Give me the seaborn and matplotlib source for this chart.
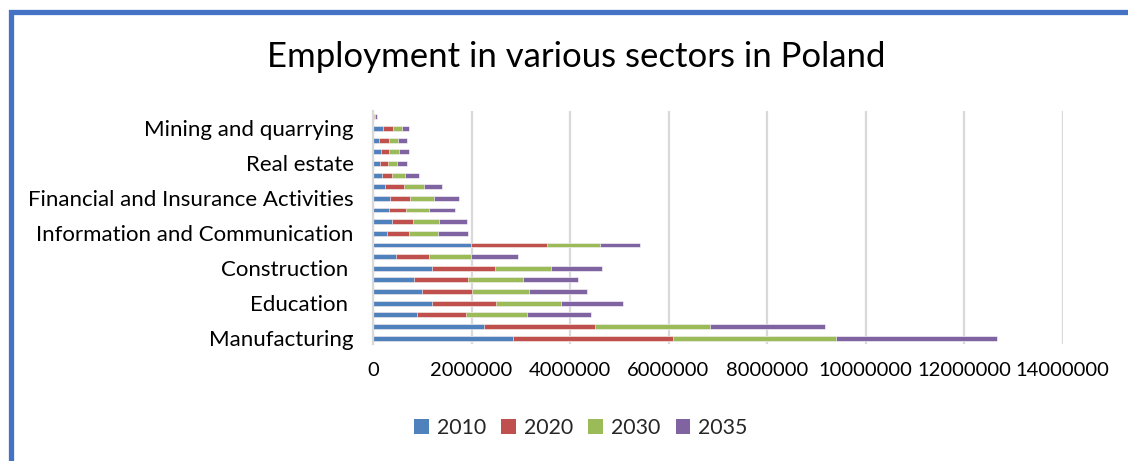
import numpy as np
import pandas as pd
import matplotlib
matplotlib.use("Agg")
import matplotlib.pyplot as plt
from matplotlib.patches import Patch, Rectangle
import seaborn as sns

# Sectors listed from the bottom bar to the top bar
sectors = [
    "Manufacturing",
    "Wholesale and retail trade",
    "Human health and social work",
    "Education ",
    "Public administration and defence",
    "Transportation and storage",
    "Construction ",
    "Professional, scientific and technical activities",
    "Agriculture, forestry and fishing",
    "Information and Communication",
    "Accommodation and food service",
    "Administrative and support services",
    "Financial and Insurance Activities",
    "Other service activities",
    "Arts, entertainment and recreation",
    "Real estate",
    "Electricity and gas supply",
    "Water supply and waste management",
    "Mining and quarrying",
    "Activities of households as employers",
]

emp_2010 = [2850000, 2260000, 890000, 1200000, 1000000, 840000, 1200000, 470000, 1990000, 280000,
            390000, 330000, 350000, 240000, 190000, 150000, 160000, 130000, 200000, 10000]
emp_2020 = [3250000, 2240000, 1000000, 1300000, 1020000, 1090000, 1270000, 670000, 1550000, 450000,
            430000, 350000, 410000, 390000, 200000, 150000, 170000, 190000, 200000, 10000]
emp_2030 = [3310000, 2340000, 1240000, 1320000, 1140000, 1120000, 1140000, 850000, 1060000, 590000,
            530000, 460000, 480000, 400000, 260000, 190000, 200000, 190000, 180000, 30000]
emp_2035 = [3250000, 2340000, 1300000, 1260000, 1190000, 1120000, 1040000, 950000, 830000, 610000,
            550000, 520000, 510000, 380000, 280000, 210000, 200000, 190000, 150000, 30000]

years = ["2010", "2020", "2030", "2035"]
colors = ["#4F81BD", "#C0504D", "#9BBB59", "#8064A2"]
labeled = ["Manufacturing", "Education ", "Construction ", "Information and Communication",
           "Financial and Insurance Activities", "Real estate", "Mining and quarrying"]
x_ticks = [0, 2000000, 4000000, 6000000, 8000000, 10000000, 12000000, 14000000]

df = pd.DataFrame({"sector": sectors, "2010": emp_2010, "2020": emp_2020,
                   "2030": emp_2030, "2035": emp_2035})
cum = df[years].cumsum(axis=1)
cum["sector"] = df["sector"]
order = sectors[::-1]  # top to bottom on the axis

sns.set_theme(style="white")
plt.rcParams["font.family"] = ["Lato", "DejaVu Sans"]

fig = plt.figure(figsize=(11.28, 4.61), dpi=100)
ax = fig.add_axes([373 / 1128, 1 - 344 / 461, (1062.5 - 373) / 1128, (344 - 111) / 461])

# Stacked bars: draw running totals from the largest down
for yr, col in zip(years[::-1], colors[::-1]):
    sns.barplot(data=cum, x=yr, y="sector", order=order, orient="h", color=col,
                saturation=1, width=0.42, errorbar=None, ax=ax,
                edgecolor="white", linewidth=0.4)

ax.set_xlim(0, 14000000)
ax.set_xticks(x_ticks)
ax.set_xticklabels([str(v) for v in x_ticks])
ax.set_yticks([order.index(s) for s in labeled])
ax.set_yticklabels(labeled)
ax.set_xlabel("")
ax.set_ylabel("")
ax.tick_params(axis="x", length=0, pad=13, labelsize=14.5, colors="#000000")
ax.tick_params(axis="y", length=0, pad=14, labelsize=16, colors="#000000")
ax.xaxis.grid(True, color="#d9d9d9", linewidth=1.6)
ax.yaxis.grid(False)
ax.set_axisbelow(True)
for side in ["top", "right", "bottom"]:
    ax.spines[side].set_visible(False)
ax.spines["left"].set_color("#d9d9d9")
ax.spines["left"].set_linewidth(1.6)

fig.text(576 / 1128, 1 - 57 / 461, "Employment in various sectors in Poland",
         ha="center", va="center", fontsize=25, color="#000000")

handles = [Patch(facecolor=c, edgecolor="none") for c in colors]
fig.legend(handles, years, loc="center", bbox_to_anchor=(581 / 1128, 1 - 428 / 461),
           ncol=4, frameon=False, handlelength=0.68, handleheight=0.68,
           handletextpad=0.4, columnspacing=0.7, fontsize=15.3)

# Chart frame
fig.patches.append(Rectangle((10.5 / 1128, -0.1), 1.2, 1.1 - 12.5 / 461,
                             transform=fig.transFigure, fill=False,
                             edgecolor="#4472C4", linewidth=3.8))

fig.savefig("out.png", dpi=100, facecolor="white")
